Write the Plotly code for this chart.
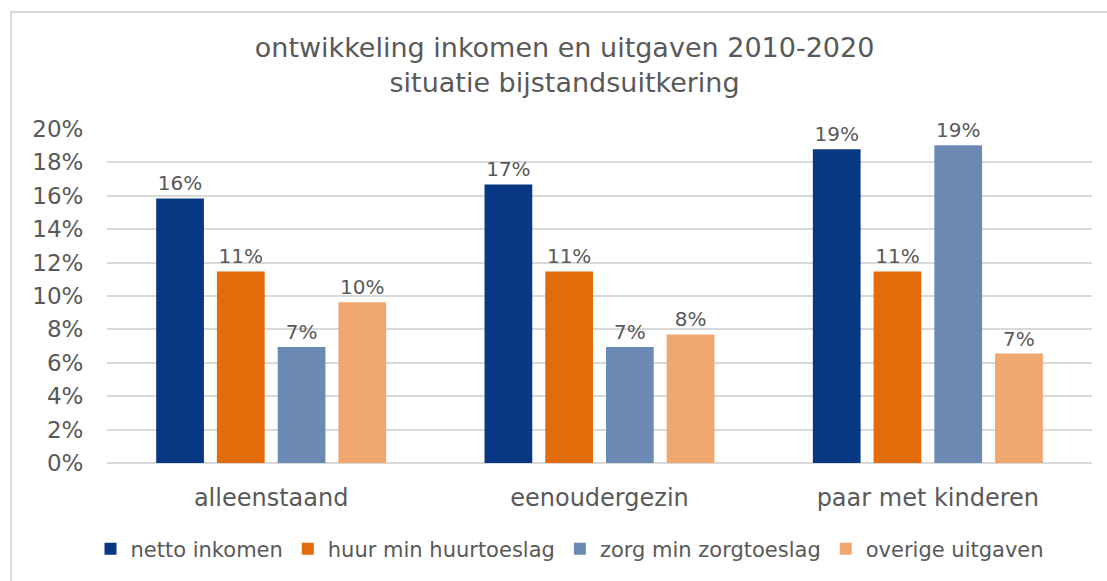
import plotly.graph_objects as go

categories = ["alleenstaand", "eenoudergezin", "paar met kinderen"]
series_names = ["netto inkomen", "huur min huurtoeslag", "zorg min zorgtoeslag", "overige uitgaven"]
netto_inkomen = [0.1584, 0.1668, 0.1878]
huur_min_huurtoeslag = [0.1147, 0.1147, 0.1147]
zorg_min_zorgtoeslag = [0.0695, 0.0695, 0.1902]
overige_uitgaven = [0.0962, 0.0770, 0.0655]
colors = ["#083783", "#E26B0A", "#6C89B4", "#EFA66F"]
y_ticks = [0, 0.02, 0.04, 0.06, 0.08, 0.10, 0.12, 0.14, 0.16, 0.18, 0.20]

FONT = "DejaVu Sans"
GREY = "#595959"

fig = go.Figure()
for name, vals, col in zip(series_names,
                           [netto_inkomen, huur_min_huurtoeslag, zorg_min_zorgtoeslag, overige_uitgaven],
                           colors):
    fig.add_trace(go.Bar(
        x=categories, y=vals, name=name,
        marker=dict(color=col, line=dict(width=0)),
        texttemplate="%{y:.0%}", textposition="outside",
        textfont=dict(family=FONT, size=20, color=GREY),
        cliponaxis=False,
    ))

fig.update_layout(
    width=1107, height=581,
    margin=dict(l=107, r=15, t=129, b=118),
    paper_bgcolor="white", plot_bgcolor="white",
    font=dict(family=FONT, color=GREY),
    title=dict(text="ontwikkeling inkomen en uitgaven 2010-2020<br>situatie bijstandsuitkering",
               x=0.51, xanchor="center", xref="container",
               y=1 - 57 / 581, yanchor="top", yref="container",
               font=dict(family=FONT, size=27, color=GREY)),
    barmode="group", bargap=0.26, bargroupgap=0.214,
    showlegend=True,
    legend=dict(orientation="h", xref="container", x=570 / 1107, xanchor="center",
                yref="container", y=1 - 549 / 581, yanchor="middle",
                font=dict(family=FONT, size=21, color=GREY), traceorder="normal",
                itemwidth=30),
    xaxis=dict(showline=False, showgrid=False, zeroline=False,
               ticks="outside", ticklen=13, tickcolor="rgba(0,0,0,0)",
               tickfont=dict(family=FONT, size=24, color=GREY)),
    yaxis=dict(range=[0, 0.20], tickvals=y_ticks, tickformat=".0%",
               showgrid=True, gridcolor="#D9D9D9", gridwidth=2,
               zeroline=True, zerolinecolor="#D9D9D9", zerolinewidth=2,
               showline=False, ticks="outside", ticklen=18, tickcolor="rgba(0,0,0,0)",
               tickfont=dict(family=FONT, size=23, color=GREY)),
    shapes=[dict(type="rect", xref="paper", yref="paper",
                 x0=(11 - 107) / 985, x1=(1115 - 107) / 985,
                 y0=(463 - 600) / 334, y1=(463 - 12) / 334,
                 line=dict(color="#D9D9D9", width=2), fillcolor="rgba(0,0,0,0)", layer="below")],
)

fig.write_html("out.html", config={"displayModeBar": False},
               post_script="document.body.style.margin='0';")
